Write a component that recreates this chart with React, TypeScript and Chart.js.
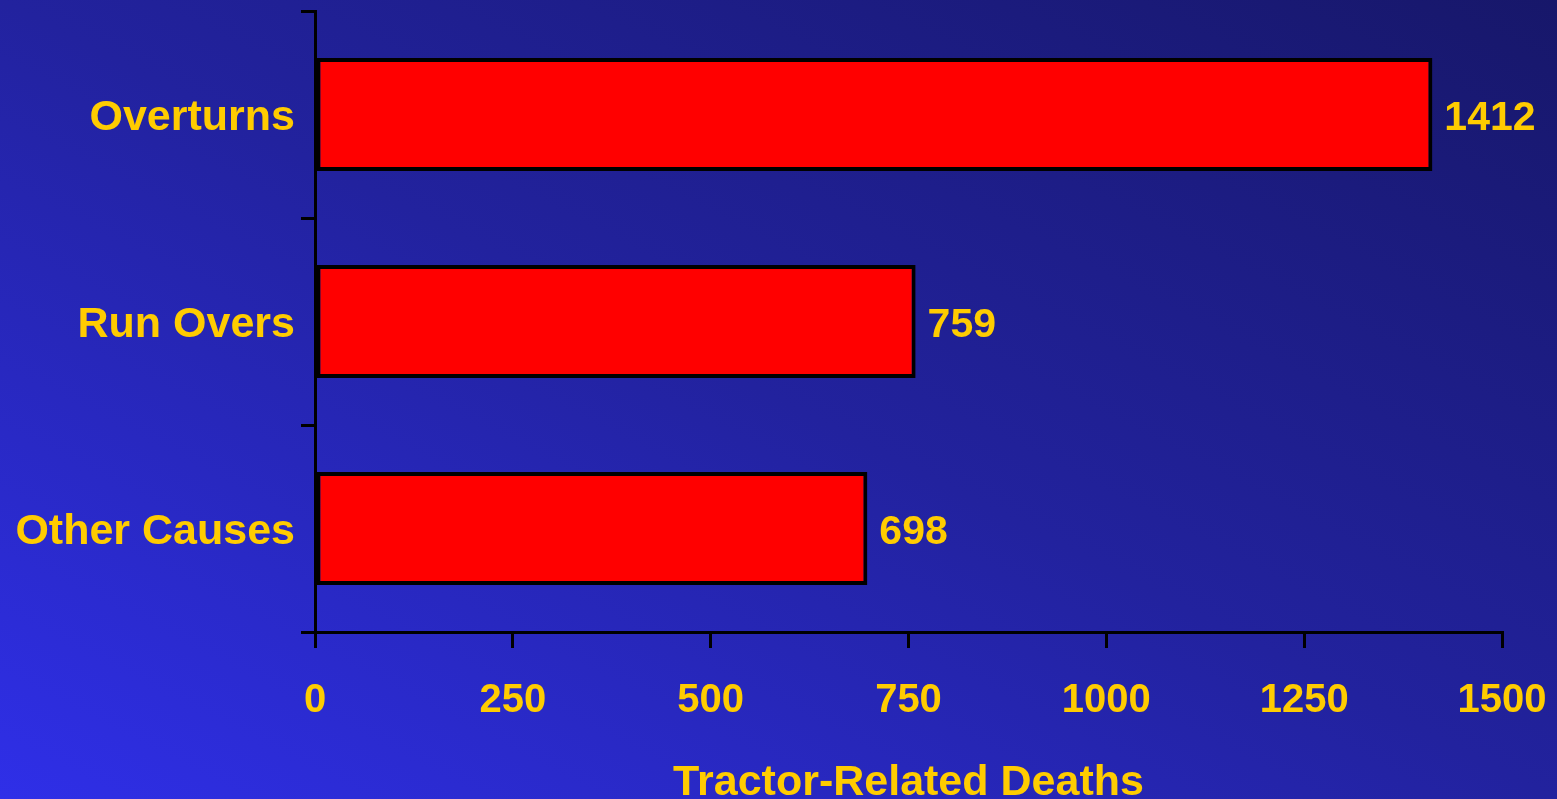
import React, { useEffect, useRef } from "react";
import { Chart, registerables } from "chart.js";

Chart.register(...registerables);

const categories = ["Overturns", "Run Overs", "Other Causes"];
const deaths = [1412, 759, 698];
const xTitle = "Tractor-Related Deaths";
const xMin = 0;
const xMax = 1500;
const xStep = 250;

const FONT = '"Liberation Sans", Arial, Helvetica, sans-serif';
const YELLOW = "#FFCC00";

const valueLabels = {
  id: "valueLabels",
  afterDatasetsDraw(chart: any) {
    const ctx = chart.ctx;
    const meta = chart.getDatasetMeta(0);
    ctx.save();
    ctx.fillStyle = YELLOW;
    ctx.font = `bold 41px ${FONT}`;
    ctx.textAlign = "left";
    ctx.textBaseline = "middle";
    meta.data.forEach((el: any, i: number) => {
      const v = chart.data.datasets[0].data[i];
      ctx.fillText(String(v), el.x + 12, el.y + 4);
    });
    ctx.restore();
  },
};

export default function App() {
  const ref = useRef<HTMLCanvasElement | null>(null);

  useEffect(() => {
    document.body.style.margin = "0";
    const canvas = ref.current!;
    const chart = new Chart(canvas, {
      type: "bar",
      data: {
        labels: categories,
        datasets: [
          {
            data: deaths,
            backgroundColor: "#FF0000",
            borderColor: "#000000",
            borderWidth: 4,
            borderSkipped: false,
            categoryPercentage: 1,
            barPercentage: 0.545,
          },
        ],
      },
      options: {
        indexAxis: "y",
        responsive: false,
        animation: false,
        maintainAspectRatio: false,
        layout: { padding: { top: 11, right: 55, bottom: 0, left: 0 } },
        plugins: {
          legend: { display: false },
          tooltip: { enabled: false },
          title: { display: false },
        },
        scales: {
          x: {
            type: "linear",
            min: xMin,
            max: xMax,
            afterFit: (s: any) => {
              s.height = 167;
              s.paddingLeft = 0;
              s.paddingRight = 0;
            },
            ticks: {
              stepSize: xStep,
              color: YELLOW,
              padding: 29,
              font: { family: FONT, size: 40, weight: "bold" },
              maxRotation: 0,
              callback: (v: any) => String(v),
            },
            grid: {
              display: true,
              drawOnChartArea: false,
              drawTicks: true,
              tickLength: 16,
              color: "#000000",
              lineWidth: 3,
            },
            border: { display: true, color: "#000000", width: 3 },
            title: {
              display: true,
              text: xTitle,
              color: YELLOW,
              font: { family: FONT, size: 43, weight: "bold", lineHeight: 1 },
              padding: { top: 0, bottom: -6 },
            },
          },
          y: {
            type: "category",
            afterFit: (s: any) => {
              s.width = 315;
              s.paddingTop = 0;
              s.paddingBottom = 0;
            },
            ticks: {
              color: YELLOW,
              padding: 6,
              labelOffset: 4,
              font: { family: FONT, size: 43, weight: "bold" },
            },
            grid: {
              display: true,
              offset: true,
              drawOnChartArea: false,
              drawTicks: true,
              tickLength: 14,
              color: "#000000",
              lineWidth: 3,
            },
            border: { display: true, color: "#000000", width: 3 },
          },
        },
      },
      plugins: [valueLabels],
    } as any);
    return () => chart.destroy();
  }, []);

  return (
    <div
      style={{
        position: "relative",
        width: 1557,
        height: 799,
        overflow: "hidden",
        background: "linear-gradient(to top right, #2f2fe8, #22229e 50%, #17176a)",
      }}
    >
      <canvas ref={ref} width={1557} height={799} style={{ display: "block" }} />
    </div>
  );
}
